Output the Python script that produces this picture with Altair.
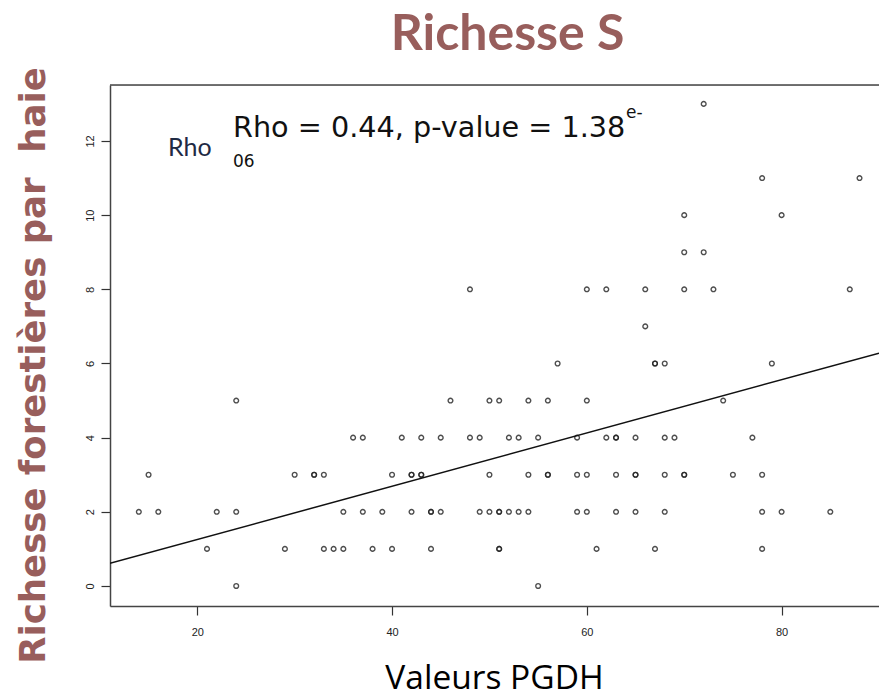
import altair as alt
import pandas as pd

# Points (PGDH value, species richness)
pgdh = [
    72,
    78, 88,
    70, 80,
    70, 72,
    48, 60, 62, 66, 70, 73, 87,
    66,
    57, 67, 67, 68, 79,
    24, 46, 50, 51, 54, 56, 60, 74,
    36, 37, 41, 43, 45, 48, 49, 52, 53, 55, 59, 62, 63, 63, 65, 68, 69, 77,
    15, 30, 32, 32, 33, 40, 42, 42, 43, 43, 50, 54, 56, 56, 59, 60, 63, 65, 65, 68, 70, 70, 75, 78,
    14, 16, 22, 24, 35, 37, 39, 42, 44, 44, 45, 49, 50, 51, 51, 52, 53, 54, 59, 60, 63, 65, 68, 78, 80, 85,
    21, 29, 33, 34, 35, 38, 40, 44, 51, 51, 61, 67, 78,
    24, 55,
]
richesse = [
    13,
    11, 11,
    10, 10,
    9, 9,
    8, 8, 8, 8, 8, 8, 8,
    7,
    6, 6, 6, 6, 6,
    5, 5, 5, 5, 5, 5, 5, 5,
    4, 4, 4, 4, 4, 4, 4, 4, 4, 4, 4, 4, 4, 4, 4, 4, 4, 4,
    3, 3, 3, 3, 3, 3, 3, 3, 3, 3, 3, 3, 3, 3, 3, 3, 3, 3, 3, 3, 3, 3, 3, 3,
    2, 2, 2, 2, 2, 2, 2, 2, 2, 2, 2, 2, 2, 2, 2, 2, 2, 2, 2, 2, 2, 2, 2, 2, 2, 2,
    1, 1, 1, 1, 1, 1, 1, 1, 1, 1, 1, 1, 1,
    0, 0,
]

# Fitted line end points
line_x = [11.04, 90.0]
line_y = [0.61, 6.28]

y_ticks = [0, 2, 4, 6, 8, 10, 12]
x_ticks = [20, 40, 60, 80]

W, H = 769, 521
BROWN = "#985E5C"

pts = pd.DataFrame({"PGDH": pgdh, "S": richesse})
reg = pd.DataFrame({"PGDH": line_x, "S": line_y})

xscale = alt.Scale(domain=[11.04, 90.0], nice=False, zero=False)
yscale = alt.Scale(domain=[-0.54, 13.51], nice=False, zero=False)

xaxis = alt.Axis(
    values=x_ticks, grid=False, tickSize=9, labelPadding=11,
    labelFont="Liberation Sans", labelFontSize=11, labelColor="#222",
    domainColor="#444", domainWidth=1.5, tickColor="#333", tickWidth=1.2,
    title="Valeurs PGDH", titleFont="Open Sans", titleFontSize=33.5,
    titleFontWeight="normal", titleColor="#000",
    titleX=384, titleY=82, titleAlign="center", titleBaseline="alphabetic",
)
yaxis = alt.Axis(
    values=y_ticks, grid=False, tickSize=9, labelPadding=6,
    labelAngle=270, labelAlign="center", labelBaseline="bottom",
    labelFont="Liberation Sans", labelFontSize=11, labelColor="#222",
    domainColor="#444", domainWidth=1.5, tickColor="#333", tickWidth=1.2,
    title="Richesse forestières par \u00a0haie", titleFont="DejaVu Sans",
    titleFontSize=35.5, titleFontWeight="bold", titleColor=BROWN,
    titleAngle=270, titleX=-77, titleY=280, titleAlign="center",
    titleBaseline="middle",
)

points = alt.Chart(pts).mark_point(
    shape="circle", filled=False, size=22, strokeWidth=1.4,
    color="#222", opacity=0.8,
).encode(
    x=alt.X("PGDH:Q", scale=xscale, axis=xaxis),
    y=alt.Y("S:Q", scale=yscale, axis=yaxis),
)

line = alt.Chart(reg).mark_line(color="#111", strokeWidth=1.5, clip=True).encode(
    x=alt.X("PGDH:Q", scale=xscale),
    y=alt.Y("S:Q", scale=yscale),
)

one = pd.DataFrame({"k": [0]})
top_rule = alt.Chart(one).mark_rule(color="#444", strokeWidth=1.5).encode(
    x=alt.value(0), x2=alt.value(W), y=alt.value(0)
)

def label(text, x, y, size, font, color, weight="normal"):
    return alt.Chart(pd.DataFrame({"t": [text]})).mark_text(
        align="left", baseline="alphabetic", fontSize=size, font=font,
        color=color, fontWeight=weight,
    ).encode(x=alt.value(x), y=alt.value(y), text="t:N")

rho_small = label("Rho", 58, 71, 25, "Lato", "#1F2A44")
rho_main = label("Rho = 0.44, p-value = 1.38", 123, 52, 28.7, "DejaVu Sans", "#111")
rho_exp = label("e-", 516, 33, 17, "DejaVu Sans", "#111")
rho_exp2 = label("06", 123, 82, 17, "DejaVu Sans", "#111")

chart = alt.layer(
    points, line, top_rule, rho_small, rho_main, rho_exp, rho_exp2
).properties(
    width=W, height=H,
    title=alt.TitleParams(
        "Richesse S", font="Lato", fontSize=50, fontWeight="bold",
        color=BROWN, anchor="middle", dx=13, offset=7,
    ),
    autosize=alt.AutoSizeParams(type="none"),
    padding={"left": 110, "top": 85, "right": 0, "bottom": 91},
).configure_view(stroke=None).configure(background="white")

chart.save("out.html", embed_options={"renderer": "svg", "actions": False})
